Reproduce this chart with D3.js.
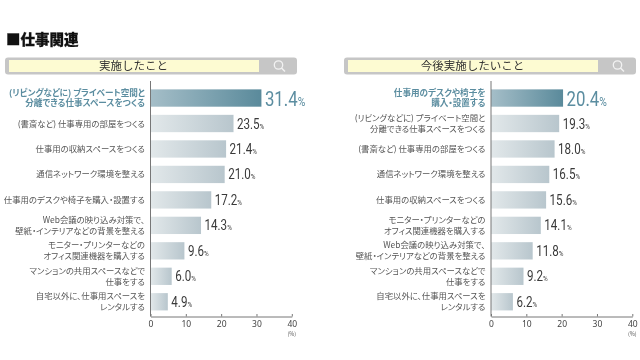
<!DOCTYPE html>
<html lang="ja">
<head>
<meta charset="utf-8">
<script src="https://cdnjs.cloudflare.com/ajax/libs/d3/7.8.5/d3.min.js"></script>
<style>
  html, body { margin: 0; padding: 0; background: #fff; }
  svg { filter: blur(0.3px); }
  text { font-family: "Noto Sans CJK JP", "Noto Sans", sans-serif; }
  .label { font-feature-settings: "palt"; }
  .axis path, .axis line { stroke: #777; }
  .axis text { font-size: 8.5px; fill: #444; font-family: "Noto Sans", sans-serif; }
  .value { font-family: "Roboto", sans-serif; }
</style>
</head>
<body>
<div id="viz"></div>
<script>
/* ===== Data ===== */
const leftTitle = '実施したこと';
const leftLabels = [
  '(リビングなどに) プライベート空間と\n分離できる仕事スペースをつくる',
  '(書斎など) 仕事専用の部屋をつくる',
  '仕事用の収納スペースをつくる',
  '通信ネットワーク環境を整える',
  '仕事用のデスクや椅子を購入・設置する',
  'Web会議の映り込み対策で、\n壁紙・インテリアなどの背景を整える',
  'モニター・プリンターなどの\nオフィス関連機器を購入する',
  'マンションの共用スペースなどで\n仕事をする',
  '自宅以外に、仕事用スペースを\nレンタルする'
];
const leftValues = [31.4, 23.5, 21.4, 21.0, 17.2, 14.3, 9.6, 6.0, 4.9];

const rightTitle = '今後実施したいこと';
const rightLabels = [
  '仕事用のデスクや椅子を\n購入・設置する',
  '(リビングなどに) プライベート空間と\n分離できる仕事スペースをつくる',
  '(書斎など) 仕事専用の部屋をつくる',
  '通信ネットワーク環境を整える',
  '仕事用の収納スペースをつくる',
  'モニター・プリンターなどの\nオフィス関連機器を購入する',
  'Web会議の映り込み対策で、\n壁紙・インテリアなどの背景を整える',
  'マンションの共用スペースなどで\n仕事をする',
  '自宅以外に、仕事用スペースを\nレンタルする'
];
const rightValues = [20.4, 19.3, 18.0, 16.5, 15.6, 14.1, 11.8, 9.2, 6.2];

const axisTicks = [0, 10, 20, 30, 40];

/* ===== Draw canvas ===== */
const svg = d3.select('#viz')
  .append('svg')
  .attr('width', 640)
  .attr('height', 360)
  .style('display', 'block');

const defs = svg.append('defs');
function addGradient(id, from, to) {
  const g = defs.append('linearGradient').attr('id', id);
  g.append('stop').attr('offset', '0%').attr('stop-color', from);
  g.append('stop').attr('offset', '100%').attr('stop-color', to);
}
addGradient('barNormal', '#e2e8ea', '#b8c6cd');
addGradient('barTop', '#a5bec8', '#5a8a9b');

svg.append('text')
  .attr('x', 6)
  .attr('y', 44.5)
  .attr('font-size', 14.5)
  .attr('font-weight', 900)
  .attr('fill', '#111')
  .attr('stroke', '#111')
  .attr('stroke-width', 0.3)
  .text('■仕事関連');

drawPanel(leftTitle, leftLabels, leftValues, 150.5, 5);
drawPanel(rightTitle, rightLabels, rightValues, 491, 344);

function drawPanel(title, labels, values, axisX, headerX) {
  const xScale = d3.scaleLinear().domain([0, 40]).range([axisX, axisX + 141.3]);
  const yScale = d3.scaleBand()
    .domain(labels)
    .range([85.3, 314.5])
    .paddingInner(0.32)
    .paddingOuter(0.16);

  const panel = svg.append('g');

  // header box with the search icon
  panel.append('rect')
    .attr('x', headerX).attr('y', 57.5)
    .attr('width', 292).attr('height', 17).attr('rx', 3)
    .attr('fill', '#c6c6c6');
  panel.append('rect')
    .attr('x', headerX + 4).attr('y', 60)
    .attr('width', 250).attr('height', 12)
    .attr('fill', '#fdfbd2');
  panel.append('text')
    .attr('x', headerX + 128.5).attr('y', 70)
    .attr('text-anchor', 'middle')
    .attr('font-size', 11.5)
    .attr('fill', '#333')
    .text(title);
  panel.append('circle')
    .attr('cx', headerX + 273.5).attr('cy', 65)
    .attr('r', 4.2)
    .attr('fill', 'none').attr('stroke', '#f2f2f2').attr('stroke-width', 1.3);
  panel.append('line')
    .attr('x1', headerX + 276.5).attr('y1', 68)
    .attr('x2', headerX + 280).attr('y2', 71.5)
    .attr('stroke', '#f2f2f2').attr('stroke-width', 1.5);

  // bars
  panel.selectAll('.bar')
    .data(values)
    .enter()
    .append('rect')
    .attr('class', 'bar')
    .attr('x', xScale(0))
    .attr('y', (d, i) => yScale(labels[i]))
    .attr('width', d => xScale(d) - xScale(0))
    .attr('height', yScale.bandwidth())
    .attr('fill', (d, i) => i === 0 ? 'url(#barTop)' : 'url(#barNormal)');

  // category labels, one or two lines
  const label = panel.selectAll('.label')
    .data(labels)
    .enter()
    .append('text')
    .attr('class', 'label')
    .attr('text-anchor', 'end')
    .attr('font-size', (d, i) => i === 0 ? 8.6 : 8.4)
    .attr('font-weight', (d, i) => i === 0 ? 700 : 400)
    .attr('fill', (d, i) => i === 0 ? '#5b8da0' : '#555');
  label.each(function (d) {
    const lines = d.split('\n');
    const mid = yScale(d) + yScale.bandwidth() / 2;
    d3.select(this).selectAll('tspan')
      .data(lines)
      .enter()
      .append('tspan')
      .attr('x', axisX - 5.5)
      .attr('y', (l, j) => mid + 3 + (j - (lines.length - 1) / 2) * 10.7)
      .text(l => l);
  });

  // value labels, squeezed sideways because the source uses a condensed face
  const value = panel.selectAll('.value')
    .data(values)
    .enter()
    .append('text')
    .attr('class', 'value')
    .attr('transform', (d, i) => {
      const x = xScale(d) + 3.5;
      const y = yScale(labels[i]) + yScale.bandwidth() / 2 + (i === 0 ? 7.5 : 5);
      return `translate(${x}, ${y}) scale(0.8, 1)`;
    })
    .attr('font-size', (d, i) => i === 0 ? 21 : 14.5)
    .attr('font-weight', 400)
    .attr('fill', (d, i) => i === 0 ? '#5b8da0' : '#3a3a3a');
  value.append('tspan').text(d => d.toFixed(1));
  value.append('tspan')
    .attr('font-size', (d, i) => i === 0 ? 13 : 8)
    .text('%');

  // axes
  panel.append('g')
    .attr('class', 'axis')
    .attr('transform', 'translate(0, 316.5)')
    .call(d3.axisBottom(xScale).tickValues(axisTicks).tickSize(-2.5).tickPadding(4).tickSizeOuter(0));
  panel.append('line')
    .attr('x1', xScale(0)).attr('x2', xScale(0))
    .attr('y1', 81).attr('y2', 316.5)
    .attr('stroke', '#777');
  panel.append('text')
    .attr('x', xScale(40)).attr('y', 335.5)
    .attr('text-anchor', 'middle')
    .attr('font-size', 5.5)
    .attr('fill', '#555')
    .text('(%)');
}
</script>
</body>
</html>
